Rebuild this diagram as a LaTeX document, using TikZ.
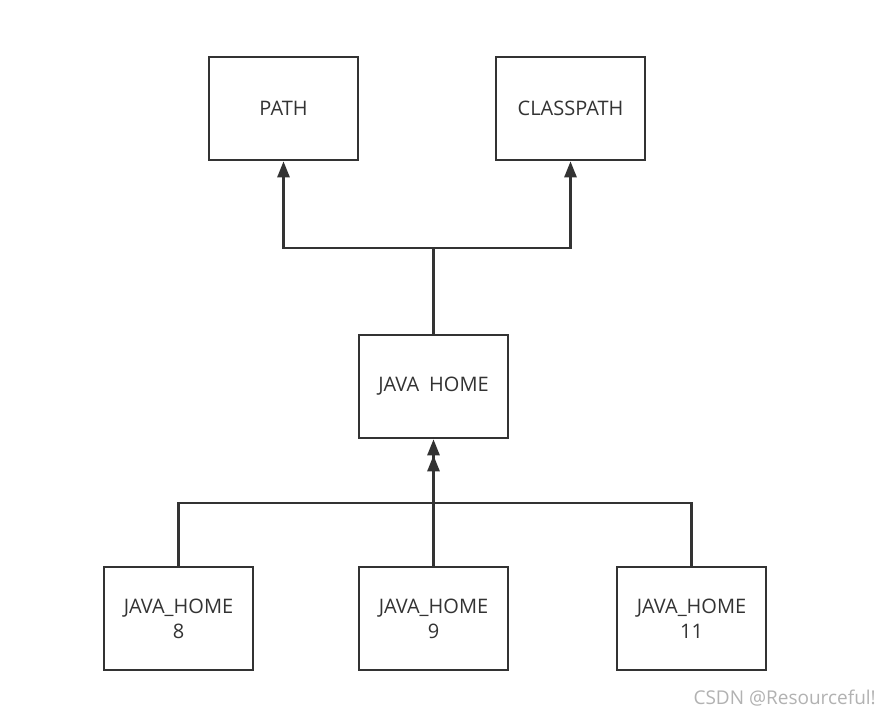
\documentclass[tikz,border=0pt]{standalone}
\usepackage{fontspec}
\setmainfont{Open Sans}
\usetikzlibrary{arrows.meta}
\definecolor{ln}{HTML}{333333}
\tikzset{
  x=1pt,y=-1pt,
  box/.style={draw=ln,line width=2.6pt,fill=white,minimum width=149pt,minimum height=103pt,inner sep=0pt,align=center,font=\fontsize{20}{25}\selectfont,text=ln},
  conn/.style={draw=ln,line width=2.6pt},
  tip/.style={conn,-{Triangle[length=16pt,width=12pt]}},
  dtip/.style={conn,-{Triangle[length=16pt,width=12pt]Triangle[length=16pt,width=12pt]}},
}
\begin{document}
\begin{tikzpicture}
\useasboundingbox (0,0) rectangle (889,717);
\fill[white] (0,0) rectangle (889,717);
\node[box] (path) at (283.5,108.5) {PATH};
\node[box] (cp) at (570.5,108.5) {CLASSPATH};
\node[box] (jh) at (433.5,386.5) {JAVA\hspace{0.5em}HOME};
\node[box] (j8) at (178.5,618.5) {JAVA\_HOME\\8};
\node[box] (j9) at (433.5,618.5) {JAVA\_HOME\\9};
\node[box] (j11) at (691.5,618.5) {JAVA\_HOME\\11};
\coordinate (top) at (433.5,248);
\coordinate (bot) at (433.5,503);
\draw[conn] (jh.north) -- (top);
\draw[tip] (top) -| (path.south);
\draw[tip] (top) -| (cp.south);
\draw[conn] (j8.north) |- (bot);
\draw[conn] (j11.north) |- (bot);
\draw[dtip] (j9.north) -- (jh.south);
\node[anchor=east,text=gray!60,font=\fontsize{19}{22}\selectfont,inner sep=0pt] (wm) at (876,698) {CSDN @Resourceful!};
\end{tikzpicture}
\end{document}
